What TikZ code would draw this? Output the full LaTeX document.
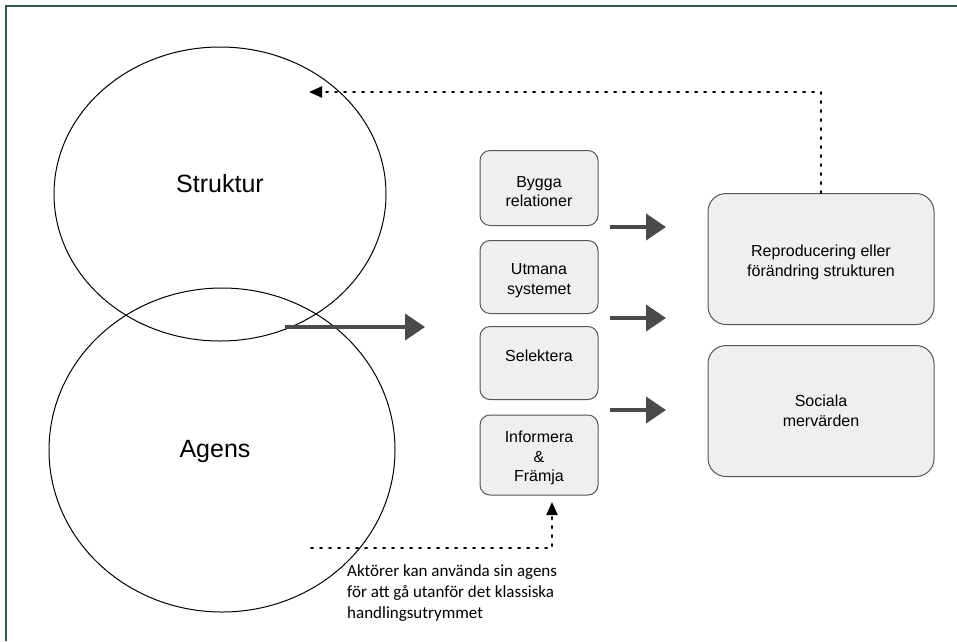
\documentclass[tikz,border=0pt]{standalone}
\usepackage{fontspec}
\setmainfont{Liberation Sans}
\newfontfamily\calfont{Carlito}
\usetikzlibrary{arrows.meta}
\definecolor{framegreen}{HTML}{2E5B48}
\definecolor{boxfill}{HTML}{EFEFEF}
\definecolor{boxline}{HTML}{555555}
\definecolor{arrowgray}{HTML}{4A4A4A}
\newcommand{\topstrut}{\rule{0pt}{18pt}}
\newcommand{\botstrut}{\rule[-15.5pt]{0pt}{15.5pt}}
\tikzset{
  actbox/.style={draw=boxline, fill=boxfill, line width=1pt, rounded corners=10pt,
    minimum width=118pt, align=center, font=\fontsize{16}{19.5}\selectfont, inner sep=0pt},
  resbox/.style={draw=boxline, fill=boxfill, line width=1pt, rounded corners=18pt,
    minimum width=226pt, minimum height=131pt, align=center, font=\fontsize{16}{20}\selectfont, inner sep=0pt},
  fatarrow/.style={draw=arrowgray, line width=4pt, -{Triangle[length=20pt,width=26pt]}},
  dotline/.style={line width=2pt, dash pattern=on 2pt off 7pt, line cap=round, -{Triangle[length=13pt,width=11pt]}}
}
\begin{document}
\begin{tikzpicture}[x=1pt,y=-1pt]
\useasboundingbox (0,0) rectangle (957,641);
% frame
\draw[framegreen, line width=2pt] (5.5,641) -- (5.5,5.5) -- (957,5.5);
% circles
\draw[line width=1pt] (220,194) ellipse (166 and 147);
\draw[line width=1pt] (222,450) ellipse (173 and 162);
\node[font=\fontsize{25}{29}\selectfont] (struktur) at (220,184) {Struktur};
\node[font=\fontsize{25}{29}\selectfont] (agens) at (215,451) {Agens};
% actions
\node[actbox, minimum height=75pt] (bygga) at (539,188) {\topstrut Bygga\\relationer};
\node[actbox, minimum height=73pt] (utmana) at (539,277) {\topstrut Utmana\\systemet};
\node[actbox, minimum height=73pt] (selekt) at (539,363) {Selektera\botstrut};
\node[actbox, minimum height=80pt] (inform) at (539,455) {\topstrut Informera\\\&\\Främja};
% results
\node[resbox] (repro) at (821,259) {\topstrut Reproducering eller\\förändring strukturen};
\node[resbox] (social) at (821,411) {Sociala\\mervärden};
% arrows
\coordinate (overlap) at (285,327);
\coordinate (acts) at (425,327);
\draw[fatarrow] (overlap) -- (acts);
\coordinate (a1) at (610,227); \coordinate (b1) at (666,227);
\coordinate (a2) at (610,318); \coordinate (b2) at (666,318);
\coordinate (a3) at (610,410); \coordinate (b3) at (666,410);
\draw[fatarrow] (a1) -- (b1);
\draw[fatarrow] (a2) -- (b2);
\draw[fatarrow] (a3) -- (b3);
% dotted feedback
\coordinate (tipS) at (309,92);
\draw[dotline] (repro.north) |- (tipS);
\coordinate (fromA) at (311,548);
\coordinate (tipI) at (552,502);
\draw[dotline] (fromA) -| (tipI);
\node[font=\calfont\fontsize{17}{21}\selectfont, align=left, anchor=north west, inner sep=0pt] (note) at (347,564)
  {Aktörer kan använda sin agens\\för att gå utanför det klassiska\\handlingsutrymmet};
\end{tikzpicture}
\end{document}
